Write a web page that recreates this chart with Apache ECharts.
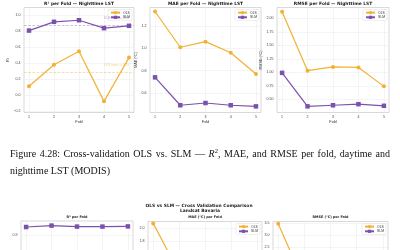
<!DOCTYPE html>
<html>
<head>
<meta charset="utf-8">
<script src="https://cdn.jsdelivr.net/npm/echarts@6/dist/echarts.min.js"></script>
<style>
  html, body { margin: 0; padding: 0; background: #fff; }
  #chart { width: 400px; height: 250px; }
</style>
</head>
<body>
<div id="chart"></div>
<script>
// folds on the x axis
const folds = [1, 2, 3, 4, 5]

// MODIS nighttime LST, per fold
const r2Ols = [0.11, 0.38, 0.55, -0.08, 0.47]
const r2Slm = [0.81, 0.92, 0.94, 0.84, 0.87]
const maeOls = [1.33, 1.01, 1.06, 0.96, 0.77]
const maeSlm = [0.74, 0.49, 0.51, 0.49, 0.48]
const rmseOls = [2.12, 1.03, 1.10, 1.09, 0.74]
const rmseSlm = [0.99, 0.37, 0.39, 0.41, 0.38]

// Landsat Bavaria, per fold (only the top of these panels is on the page)
const lsR2Ols = [0.66, 0.75, 0.70, 0.68, 0.72]
const lsR2Slm = [0.94, 0.947, 0.942, 0.942, 0.943]
const lsMaeOls = [2.08, 1.31, 1.25, 1.35, 1.28]
const lsMaeSlm = [0.95, 0.92, 0.90, 0.93, 0.91]
const lsRmseOls = [3.49, 1.00, 1.10, 1.05, 0.95]
const lsRmseSlm = [0.40, 0.38, 0.42, 0.39, 0.41]

// tick labels
const r2Ticks = [-0.2, 0, 0.2, 0.4, 0.6, 0.8, 1.0]
const maeTicks = [0.6, 0.8, 1.0, 1.2]
const rmseTicks = [0.5, 0.75, 1.0, 1.25, 1.5, 1.75, 2.0]
const lsR2Ticks = [0.6, 0.7, 0.8, 0.9]
const lsMaeTicks = [1.0, 1.2, 1.4, 1.6, 1.8, 2.0]
const lsRmseTicks = [0.5, 1.0, 1.5, 2.0, 2.5, 3.0, 3.5]

const OLS_COLOR = '#f2b134'
const SLM_COLOR = '#7b52ab'

const panels = [
  { left: 24, top: 7.5, width: 110, height: 105, min: -0.22, max: 1.1, ticks: r2Ticks, digits: 1,
    yName: 'R²', xName: 'Fold', ols: r2Ols, slm: r2Slm, legend: true, means: true },
  { left: 150, top: 7.5, width: 111, height: 105, min: 0.425, max: 1.366, ticks: maeTicks, digits: 1,
    yName: 'MAE (°C)', xName: 'Fold', ols: maeOls, slm: maeSlm, legend: true },
  { left: 277, top: 7.5, width: 112, height: 105, min: 0.256, max: 2.2, ticks: rmseTicks, digits: 2,
    yName: 'RMSE (°C)', xName: 'Fold', ols: rmseOls, slm: rmseSlm, legend: true },
  { left: 21, top: 221, width: 112, height: 80, min: 0.57, max: 0.97, ticks: lsR2Ticks, digits: 1,
    yName: '', xName: '', ols: lsR2Ols, slm: lsR2Slm },
  { left: 148, top: 221.5, width: 114, height: 80, min: 0.85, max: 2.11, ticks: lsMaeTicks, digits: 1,
    yName: '', xName: '', ols: lsMaeOls, slm: lsMaeSlm, legend: true },
  { left: 273, top: 221.5, width: 115, height: 80, min: 0.25, max: 3.58, ticks: lsRmseTicks, digits: 1,
    yName: '', xName: '', ols: lsRmseOls, slm: lsRmseSlm, legend: true }
]

function fmt (v, digits) {
  return v.toFixed(digits).replace('-', '\u2212')
}

function mean (arr) {
  return arr.reduce((a, b) => a + b, 0) / arr.length
}

function lineSeries (name, values, idx, color, symbol, size) {
  return {
    name,
    type: 'line',
    xAxisIndex: idx,
    yAxisIndex: idx,
    data: folds.map((f, i) => [f, values[i]]),
    symbol,
    symbolSize: size,
    lineStyle: { color, width: 1.2 },
    itemStyle: { color },
    emphasis: { disabled: true },
    z: 3
  }
}

let grids = []
let xAxes = []
let yAxes = []
let series = []
let legends = []

panels.forEach((p, idx) => {
  grids.push({
    left: p.left, top: p.top, width: p.width, height: p.height,
    outerBoundsMode: 'none', containLabel: false,
    show: true, borderColor: '#cfcfcf', borderWidth: 0.8
  })
  xAxes.push({
    type: 'value', gridIndex: idx, min: 0.8, max: 5.2,
    name: p.xName, nameLocation: 'middle', nameGap: 5.5,
    nameTextStyle: { fontSize: 3.8, color: '#333' },
    axisLine: { show: false },
    axisTick: { show: false, customValues: folds },
    axisLabel: { customValues: folds, fontSize: 3.6, color: '#444', margin: 2.5 },
    splitLine: { show: true, lineStyle: { color: '#ececec', width: 0.6 } }
  })
  yAxes.push({
    type: 'value', gridIndex: idx, min: p.min, max: p.max,
    name: p.yName, nameLocation: 'middle', nameGap: idx === 0 ? 14 : 11, nameRotate: 90,
    nameTextStyle: { fontSize: 3.8, color: '#333' },
    axisLine: { show: false },
    axisTick: { show: false, customValues: p.ticks },
    axisLabel: {
      customValues: p.ticks, fontSize: 3.6, color: '#444', margin: 3.5,
      formatter: v => fmt(v, p.digits)
    },
    splitLine: { show: true, lineStyle: { color: '#ececec', width: 0.6 } }
  })
  let ols = lineSeries('OLS', p.ols, idx, OLS_COLOR, 'circle', 4)
  let slm = lineSeries('SLM', p.slm, idx, SLM_COLOR, 'rect', 4.5)
  if (p.means) {
    let mOls = mean(p.ols)
    let mSlm = mean(p.slm)
    ols.markLine = {
      silent: true, symbol: 'none',
      lineStyle: { color: OLS_COLOR, type: 'dashed', width: 0.7, opacity: 0.6 },
      label: { position: 'insideEndTop', fontSize: 3.2, color: OLS_COLOR, formatter: 'OLS mean = ' + mOls.toFixed(2) },
      data: [{ yAxis: mOls }]
    }
    slm.markLine = {
      silent: true, symbol: 'none',
      lineStyle: { color: SLM_COLOR, type: 'dashed', width: 0.7, opacity: 0.5 },
      label: { position: 'insideEndTop', fontSize: 3.2, color: SLM_COLOR, formatter: 'SLM mean = ' + mSlm.toFixed(2) },
      data: [{ yAxis: mSlm }]
    }
  }
  series.push(ols, slm)
  if (p.legend) {
    legends.push({
      data: ['OLS', 'SLM'],
      orient: 'vertical',
      right: 400 - (p.left + p.width) + 2,
      top: p.top + 2,
      itemWidth: 9,
      itemHeight: 4,
      itemGap: 1.5,
      padding: [1.5, 2],
      borderColor: '#dddddd',
      borderWidth: 0.5,
      borderRadius: 1,
      backgroundColor: '#fff',
      textStyle: { fontSize: 3.4, color: '#333', padding: [0, 0, 0, -2] },
      selectedMode: false
    })
  }
})

function label (text, x, y, font, fill) {
  return {
    type: 'text', x, y, silent: true,
    style: { text, font, fill: fill || '#222', align: 'center', verticalAlign: 'middle' }
  }
}

// caption words, spread like a justified LaTeX line
const captionWords = ['Figure', '4.28:', 'Cross-validation', 'OLS', 'vs.', 'SLM', '—', '{i|R}{s|2},',
  'MAE,', 'and', 'RMSE', 'per', 'fold,', 'daytime', 'and']

let texts = [
  label('R² per Fold — Nighttime LST', 79, 3.5, 'bold 4.4px "DejaVu Sans"'),
  label('MAE per Fold — Nighttime LST', 205.5, 3.5, 'bold 4.4px "DejaVu Sans"'),
  label('RMSE per Fold — Nighttime LST', 333, 3.5, 'bold 4.4px "DejaVu Sans"'),
  label('OLS vs SLM — Cross Validation Comparison', 199, 205.5, 'bold 4.4px "DejaVu Sans"'),
  label('Landsat Bavaria', 200, 210.5, 'bold 4.4px "DejaVu Sans"'),
  label('R² per Fold', 77, 217.5, 'bold 3.4px "DejaVu Sans"'),
  label('MAE (°C) per Fold', 205, 217.5, 'bold 3.4px "DejaVu Sans"'),
  label('RMSE (°C) per Fold', 330.5, 217.5, 'bold 3.4px "DejaVu Sans"'),
  {
    type: 'text', x: 10, y: 154.5, silent: true,
    style: {
      text: captionWords.join('{w| }'),
      font: '10px "Liberation Serif"', fill: '#111', verticalAlign: 'middle',
      rich: {
        w: { width: 3.6, fontSize: 10, fontFamily: 'Liberation Serif' },
        i: { fontStyle: 'italic', fontSize: 10, fontFamily: 'Liberation Serif', fill: '#111' },
        s: { fontSize: 6.5, fontFamily: 'Liberation Serif', fill: '#111', verticalAlign: 'top', padding: [0, 0, 6, 0] }
      }
    }
  },
  {
    type: 'text', x: 10, y: 171.5, silent: true,
    style: { text: 'nighttime LST (MODIS)', font: '10px "Liberation Serif"', fill: '#111', verticalAlign: 'middle' }
  }
]

let myChart = echarts.init(document.getElementById('chart'), null, { renderer: 'canvas' })
myChart.setOption({
  animation: false,
  backgroundColor: '#fff',
  grid: grids,
  xAxis: xAxes,
  yAxis: yAxes,
  legend: legends,
  series,
  graphic: texts
})
</script>
</body>
</html>
